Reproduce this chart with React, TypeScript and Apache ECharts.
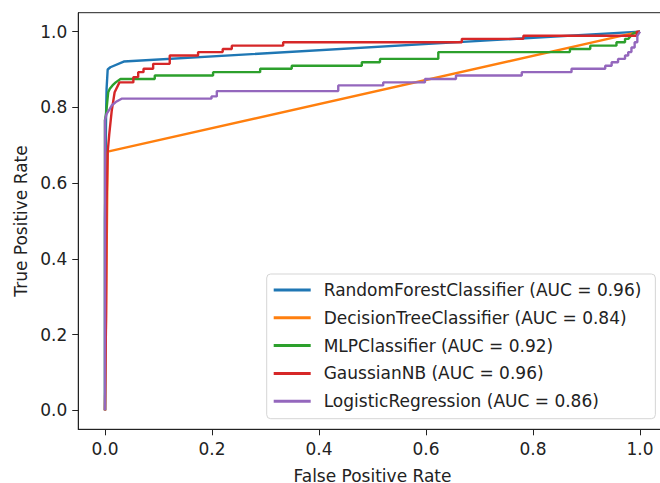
import React, { useEffect, useRef } from "react";
import * as echarts from "echarts";

const seriesNames = [
  "RandomForestClassifier (AUC = 0.96)",
  "DecisionTreeClassifier (AUC = 0.84)",
  "MLPClassifier (AUC = 0.92)",
  "GaussianNB (AUC = 0.96)",
  "LogisticRegression (AUC = 0.86)",
];

const colors = ["#1f77b4", "#ff7f0e", "#2ca02c", "#d62728", "#9467bd"];

const tickValues = [0, 0.2, 0.4, 0.6, 0.8, 1.0];

const randomForest: number[][] = [
  [0, 0], [0, 0.5], [0.002, 0.78], [0.003, 0.85], [0.005, 0.9], [0.01, 0.906], [0.035, 0.921], [1, 1],
];

const decisionTree: number[][] = [
  [0, 0], [0.005, 0.683], [1, 1],
];

const mlp: number[][] = [
  [0, 0], [0, 0.766], [0.002, 0.783], [0.006, 0.84], [0.009, 0.849], [0.014, 0.858], [0.02, 0.866],
  [0.029, 0.875], [0.093, 0.875], [0.093, 0.884], [0.202, 0.884], [0.202, 0.893], [0.29, 0.893],
  [0.29, 0.902], [0.349, 0.902], [0.349, 0.91], [0.48, 0.91], [0.48, 0.919], [0.514, 0.919],
  [0.514, 0.928], [0.623, 0.928], [0.623, 0.946], [0.869, 0.946], [0.869, 0.954], [0.907, 0.954],
  [0.907, 0.963], [0.956, 0.963], [0.956, 0.972], [0.972, 0.972], [0.972, 0.981], [0.978, 0.981],
  [0.987, 0.995], [1, 1],
];

const gaussianNB: number[][] = [
  [0, 0], [0.002, 0.25], [0.003, 0.55], [0.005, 0.682], [0.008, 0.73], [0.0125, 0.79], [0.018, 0.84],
  [0.027, 0.866], [0.053, 0.866], [0.053, 0.88], [0.062, 0.88], [0.062, 0.893], [0.072, 0.893],
  [0.072, 0.902], [0.09, 0.902], [0.09, 0.915], [0.121, 0.915], [0.121, 0.937], [0.174, 0.937],
  [0.174, 0.946], [0.22, 0.946], [0.22, 0.954], [0.237, 0.954], [0.237, 0.963], [0.333, 0.963],
  [0.333, 0.972], [0.667, 0.972], [0.667, 0.981], [0.782, 0.981], [0.782, 0.989], [0.994, 0.989],
  [0.994, 1], [1, 1],
];

const logistic: number[][] = [
  [0, 0], [0, 0.766], [0.003, 0.783], [0.009, 0.796], [0.0125, 0.805], [0.02, 0.814], [0.031, 0.823],
  [0.199, 0.823], [0.199, 0.829], [0.209, 0.829], [0.209, 0.843], [0.436, 0.843], [0.436, 0.858],
  [0.52, 0.858], [0.52, 0.866], [0.598, 0.866], [0.598, 0.875], [0.656, 0.875], [0.656, 0.884],
  [0.779, 0.884], [0.779, 0.893], [0.872, 0.893], [0.872, 0.902], [0.935, 0.902], [0.935, 0.91],
  [0.947, 0.91], [0.947, 0.919], [0.959, 0.919], [0.959, 0.928], [0.972, 0.928], [0.972, 0.937],
  [0.978, 0.937], [0.978, 0.946], [0.984, 0.946], [0.984, 0.958], [0.99, 0.958], [0.99, 0.972],
  [0.995, 0.972], [0.995, 0.989], [1, 1],
];

const allData = [randomForest, decisionTree, mlp, gaussianNB, logistic];

const FONT = "DejaVu Sans";
const FS = 17;

export default function App() {
  const ref = useRef<HTMLDivElement>(null);
  useEffect(() => {
    if (!ref.current) return;
    const chart = echarts.init(ref.current, undefined, { renderer: "svg" });
    const axisCommon = {
      type: "value" as const,
      min: -0.05,
      max: 1.05,
      nameLocation: "middle" as const,
      nameTextStyle: { fontFamily: FONT, fontSize: FS, color: "#222" },
      splitLine: { show: false },
      axisLine: { show: true, onZero: false, lineStyle: { color: "#222", width: 1 } },
      axisTick: { show: true, customValues: tickValues, length: 6, lineStyle: { color: "#222", width: 1 } },
      axisLabel: {
        customValues: tickValues,
        formatter: (v: number) => v.toFixed(1),
        fontFamily: FONT,
        fontSize: FS,
        color: "#222",
        margin: 11,
      },
    };
    chart.setOption({
      animation: false,
      backgroundColor: "#fff",
      color: colors,
      grid: {
        left: 78.25,
        right: -6.75,
        top: 12.7,
        bottom: 53.7,
        containLabel: false,
        outerBoundsMode: "none",
        show: true,
        borderColor: "#222",
        borderWidth: 1,
        backgroundColor: "transparent",
      },
      xAxis: { ...axisCommon, name: "False Positive Rate", nameGap: 38 },
      yAxis: { ...axisCommon, name: "True Positive Rate", nameGap: 49 },
      legend: {
        orient: "vertical",
        left: 266.7,
        top: 274,
        icon: "rect",
        itemWidth: 37,
        itemHeight: 3,
        itemGap: 10.8,
        padding: [7.5, 14, 9, 7],
        borderColor: "#d5d5d5",
        borderWidth: 1,
        borderRadius: 4,
        backgroundColor: "rgba(255,255,255,0.8)",
        textStyle: { fontFamily: FONT, fontSize: FS, color: "#222", padding: [0, 0, 0, 8] },
        data: seriesNames,
      },
      series: seriesNames.map((name, i) => ({
        name,
        type: "line",
        data: allData[i],
        symbol: "none",
        showSymbol: false,
        lineStyle: { width: 2.4, color: colors[i] },
        itemStyle: { color: colors[i] },
        z: 2 + i,
      })),
    });
    return () => chart.dispose();
  }, []);
  return <div ref={ref} style={{ width: 660, height: 483, position: "absolute", left: 0, top: 0 }} />;
}
